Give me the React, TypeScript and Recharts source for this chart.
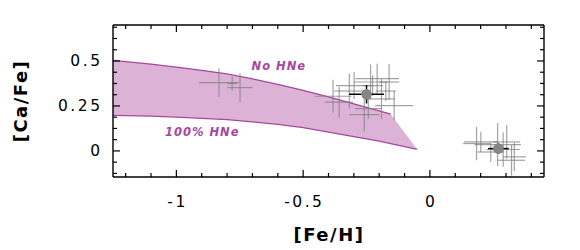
import { ComposedChart, Area, Line, Scatter, ErrorBar, XAxis, YAxis } from 'recharts'

// model band: upper edge = no HNe, lower edge = 100% HNe
const bandFe = [-1.25, -1.1, -1.0, -0.9, -0.8, -0.7, -0.6, -0.5, -0.4, -0.3, -0.2, -0.155, -0.05]
const bandHi = [0.503, 0.482, 0.466, 0.448, 0.428, 0.4, 0.37, 0.337, 0.3, 0.262, 0.223, 0.205, 0.008]
const bandLo = [0.198, 0.193, 0.188, 0.181, 0.174, 0.162, 0.148, 0.13, 0.105, 0.08, 0.054, 0.041, 0.008]

// individual stars (grey crosses)
const starFe = [-0.832, -0.78, -0.749, -0.382, -0.358, -0.318, -0.299, -0.259, -0.234, -0.226, -0.208, -0.191, -0.174, -0.161, -0.141, -0.243, 0.184, 0.201, 0.24, 0.267, 0.289, 0.303, 0.322, 0.333]
const starCa = [0.38, 0.374, 0.352, 0.304, 0.271, 0.333, 0.363, 0.202, 0.383, 0.363, 0.402, 0.289, 0.333, 0.383, 0.252, 0.235, 0.041, 0.05, -0.006, 0.035, 0.008, 0.05, -0.052, -0.033]
const starErrFe = [0.079, 0.02, 0.05, 0.072, 0.055, 0.059, 0.072, 0.059, 0.066, 0.04, 0.086, 0.053, 0.04, 0.04, 0.075, 0.053, 0.053, 0.066, 0.053, 0.092, 0.066, 0.053, 0.053, 0.046]
const starErrCa = [0.08, 0.04, 0.08, 0.091, 0.085, 0.098, 0.076, 0.093, 0.098, 0.056, 0.083, 0.111, 0.056, 0.1, 0.081, 0.056, 0.093, 0.056, 0.056, 0.12, 0.096, 0.093, 0.085, 0.078]

// cluster means
const meanFe = [-0.25, 0.27]
const meanCa = [0.315, 0.013]
const meanErrFe = [0.069, 0.041]
const meanErrCa = [0.051, 0.03]

const notes = [
  { x: -0.596, y: 0.472, text: 'No HNe' },
  { x: -0.898, y: 0.104, text: '100% HNe' },
]

const xTicks = [-1.2, -1.1, -1, -0.9, -0.8, -0.7, -0.6, -0.5, -0.4, -0.3, -0.2, -0.1, 0, 0.1, 0.2, 0.3, 0.4]
const yTicks = [-0.125, -0.0625, 0, 0.0625, 0.125, 0.1875, 0.25, 0.3125, 0.375, 0.4375, 0.5, 0.5625, 0.625, 0.6875]

const band = bandFe.map((x, i) => ({
  x,
  hi: bandHi[i],
  lo: bandLo[i],
  hiEdge: i < bandFe.length - 1 ? bandHi[i] : null,
}))
const stars = starFe.map((x, i) => ({ x, y: starCa[i], ex: starErrFe[i], ey: starErrCa[i] }))
const means = meanFe.map((x, i) => ({ x, y: meanCa[i], ex: meanErrFe[i], ey: meanErrCa[i] }))

const FONT = '"DejaVu Sans", Verdana, sans-serif'
const PURPLE = '#a6479f'
const FILL = '#dcb3d6'
const MAJOR = 7
const MINOR = 4

const isStep = (v: number, per: number) => Math.abs(v * per - Math.round(v * per)) < 1e-6

const labelStyle = { fontFamily: FONT, fontSize: 15.5, letterSpacing: 2.5, fill: '#000' }

// ticks point into the frame, so they are drawn by hand
function BottomTick({ x, y, payload }: any) {
  const major = isStep(payload.value, 2)
  return (
    <g>
      <path d={`M${x},${y}V${y - (major ? MAJOR : MINOR)}`} stroke="#000" strokeWidth={1.2} fill="none" />
      {major && (
        <text x={x + 1.2} y={y + 25} textAnchor="middle" dominantBaseline="central" style={labelStyle}>
          {String(payload.value)}
        </text>
      )}
    </g>
  )
}

function TopTick({ x, y, payload }: any) {
  const major = isStep(payload.value, 2)
  return <path d={`M${x},${y}V${y + (major ? MAJOR : MINOR)}`} stroke="#000" strokeWidth={1.2} fill="none" />
}

function LeftTick({ x, y, payload }: any) {
  const major = isStep(payload.value, 4)
  return (
    <g>
      <path d={`M${x},${y}H${x + (major ? MAJOR : MINOR)}`} stroke="#000" strokeWidth={1.2} fill="none" />
      {major && (
        <text x={x - 10.5} y={y} textAnchor="end" dominantBaseline="central" style={labelStyle}>
          {String(payload.value)}
        </text>
      )}
    </g>
  )
}

function RightTick({ x, y, payload }: any) {
  const major = isStep(payload.value, 4)
  return <path d={`M${x},${y}H${x - (major ? MAJOR : MINOR)}`} stroke="#000" strokeWidth={1.2} fill="none" />
}

const NoteText = (p: any) => (
  <text
    x={p.cx}
    y={p.cy}
    textAnchor="middle"
    dominantBaseline="central"
    style={{ fontFamily: FONT, fontSize: 11.5, fontWeight: 'bold', fontStyle: 'italic', letterSpacing: 1, fill: PURPLE }}
  >
    {p.payload.text}
  </text>
)

const MeanDot = (p: any) => <circle cx={p.cx} cy={p.cy} r={5.3} fill="#858585" />

const titleStyle = {
  position: 'absolute' as const,
  fontFamily: FONT,
  fontSize: 18,
  fontWeight: 'bold' as const,
  letterSpacing: 1.5,
  lineHeight: '20px',
  whiteSpace: 'nowrap' as const,
  color: '#000',
}

const frame = { stroke: '#000', strokeWidth: 1.4 }

export default function App() {
  return (
    <div style={{ position: 'absolute', left: 0, top: 0, width: 580, height: 250, background: '#fff' }}>
      <ComposedChart width={580} height={250} data={band} margin={{ top: 24, right: 35, bottom: 33, left: 53 }}>
        <Area
          type="linear" dataKey={(d: any) => [d.lo, d.hi]} stroke="none" fill={FILL} fillOpacity={1}
          isAnimationActive={false}
        />
        <Line type="linear" dataKey="hiEdge" stroke={PURPLE} strokeWidth={1.3} dot={false} isAnimationActive={false} />
        <Line type="linear" dataKey="lo" stroke={PURPLE} strokeWidth={1.3} dot={false} isAnimationActive={false} />

        <Scatter data={stars} dataKey="y" shape={() => <g />} isAnimationActive={false}>
          <ErrorBar dataKey="ex" direction="x" width={0} stroke="rgba(128,128,128,0.72)" strokeWidth={1.2} />
          <ErrorBar dataKey="ey" direction="y" width={0} stroke="rgba(128,128,128,0.72)" strokeWidth={1.2} />
        </Scatter>

        <Scatter data={means} dataKey="y" shape={MeanDot} isAnimationActive={false}>
          <ErrorBar dataKey="ex" direction="x" width={0} stroke="#000" strokeWidth={1.5} />
          <ErrorBar dataKey="ey" direction="y" width={0} stroke="#000" strokeWidth={1.5} />
        </Scatter>

        <Scatter data={notes} dataKey="y" shape={NoteText} isAnimationActive={false} />

        <XAxis
          dataKey="x" type="number" domain={[-1.25, 0.45]} allowDataOverflow ticks={xTicks} interval={0}
          height={40} tickSize={0} tickMargin={0} tickLine={false} tick={(p: any) => <BottomTick {...p} />}
          axisLine={frame}
        />
        <XAxis
          xAxisId="top" orientation="top" dataKey="x" type="number" domain={[-1.25, 0.45]} allowDataOverflow
          ticks={xTicks} interval={0} height={1} tickSize={0} tickMargin={0} tickLine={false}
          tick={(p: any) => <TopTick {...p} />} axisLine={frame}
        />
        <YAxis
          type="number" domain={[-0.145, 0.7]} allowDataOverflow ticks={yTicks} interval={0}
          width={60} tickSize={0} tickMargin={0} tickLine={false} tick={(p: any) => <LeftTick {...p} />}
          axisLine={frame}
        />
        <YAxis
          yAxisId="right" orientation="right" type="number" domain={[-0.145, 0.7]} allowDataOverflow
          ticks={yTicks} interval={0} width={1} tickSize={0} tickMargin={0} tickLine={false}
          tick={(p: any) => <RightTick {...p} />} axisLine={frame}
        />
      </ComposedChart>

      <div style={{ ...titleStyle, left: 229, width: 200, top: 225, textAlign: 'center' }}>[Fe/H]</div>
      <div style={{ ...titleStyle, left: 21, top: 101, transform: 'translate(-50%, -50%) rotate(-90deg)' }}>[Ca/Fe]</div>
    </div>
  )
}
